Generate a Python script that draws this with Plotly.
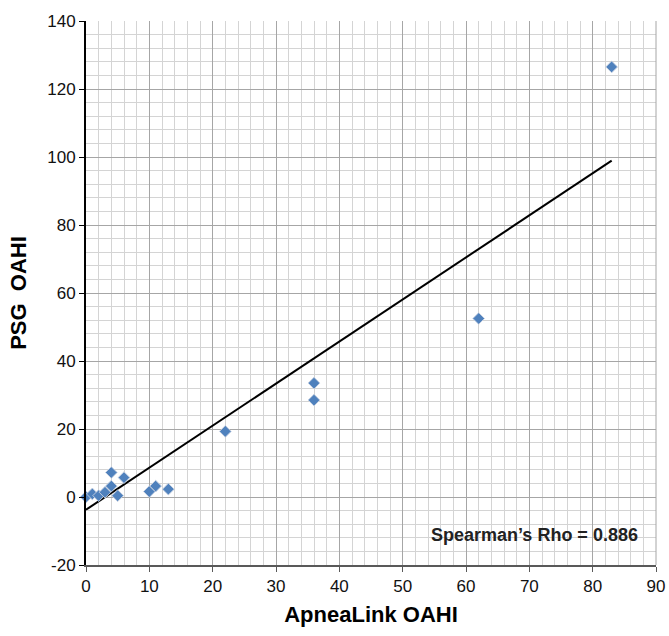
import plotly.graph_objects as go

# Data
apnealink_oahi = [0, 1, 2, 3, 4, 4, 5, 6, 10, 11, 13, 22, 36, 36, 62, 83]
psg_oahi = [0.0, 0.9, 0.4, 1.4, 7.2, 3.2, 0.4, 5.7, 1.6, 3.2, 2.3, 19.3, 33.5, 28.5, 52.5, 126.5]

trend_slope = 1.237
trend_intercept = -3.75
trend_x = [0, 83]
trend_y = [trend_intercept + trend_slope * v for v in trend_x]

x_tick_vals = [0, 10, 20, 30, 40, 50, 60, 70, 80, 90]
x_tick_text = ["0", "10", "20", "30", "40", "50", "60", "70", "80", "90"]
y_tick_vals = [-20, 0, 20, 40, 60, 80, 100, 120, 140]
y_tick_text = ["-20", "0", "20", "40", "60", "80", "100", "120", "140"]

annotation_text = "Spearman\u2019s Rho = 0.886"
x_title = "ApneaLink OAHI"
y_title = "PSG  OAHI"

fig = go.Figure()
fig.add_trace(go.Scatter(
    x=trend_x, y=trend_y, mode="lines",
    line=dict(color="black", width=2), hoverinfo="skip", showlegend=False))
fig.add_trace(go.Scatter(
    x=apnealink_oahi, y=psg_oahi, mode="markers", cliponaxis=False,
    marker=dict(symbol="diamond", size=9, color="#4f81bd",
                line=dict(color="rgba(200,210,225,0.9)", width=1)),
    showlegend=False))

font_family = "Liberation Sans, Arial, sans-serif"

fig.add_annotation(x=70.8, y=-11.2, text="<b>" + annotation_text + "</b>",
                   showarrow=False, font=dict(size=18, color="#222222", family=font_family))

fig.update_layout(
    width=669, height=636,
    margin=dict(l=86, r=13, t=21, b=71),
    paper_bgcolor="white", plot_bgcolor="white",
    font=dict(family=font_family, color="black"),
    xaxis=dict(
        range=[0, 90], tickvals=x_tick_vals, ticktext=x_tick_text, automargin=False,
        showgrid=True, gridcolor="#a6a6a6", gridwidth=1,
        minor=dict(dtick=2, tick0=0, showgrid=True, gridcolor="#d4d4d4", gridwidth=1),
        showline=True, linecolor="#595959", linewidth=2,
        ticks="outside", ticklen=5, tickcolor="#595959",
        tickfont=dict(size=17, color="#111111"),
        title=dict(text="<b>" + x_title + "</b>", font=dict(size=22), standoff=11),
        zeroline=False, mirror=False,
    ),
    yaxis=dict(
        range=[-20, 140], tickvals=y_tick_vals, ticktext=y_tick_text, automargin=False,
        showgrid=True, gridcolor="#a6a6a6", gridwidth=1,
        minor=dict(dtick=4, tick0=0, showgrid=True, gridcolor="#d4d4d4", gridwidth=1),
        showline=True, linecolor="black", linewidth=2,
        ticks="outside", ticklen=5, tickcolor="black",
        tickfont=dict(size=17, color="#111111"),
        title=dict(text="<b>" + y_title + "</b>", font=dict(size=22), standoff=15),
        zeroline=False,
    ),
)
fig.add_shape(type="line", xref="paper", yref="paper", x0=1, x1=1, y0=0, y1=1,
              line=dict(color="#a6a6a6", width=1))

fig.write_html(
    "out.html",
    config={"displayModeBar": False},
    post_script="document.body.style.margin='0';document.body.style.overflow='hidden';",
)
